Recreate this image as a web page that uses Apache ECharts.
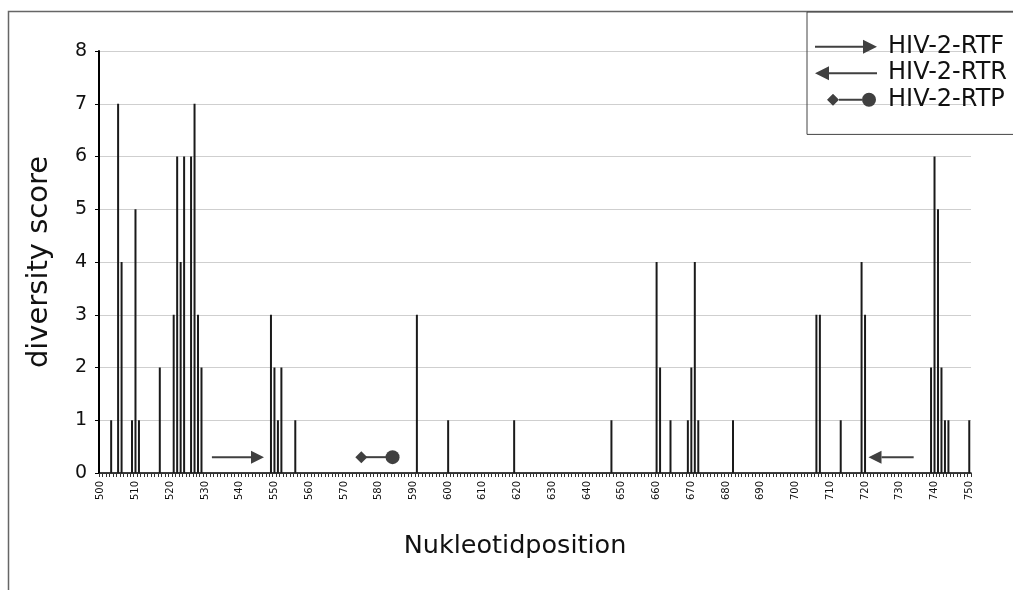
<!DOCTYPE html>
<html>
<head>
<meta charset="utf-8">
<title>HIV-2 RT diversity</title>
<script src="https://cdn.jsdelivr.net/npm/echarts@6/dist/echarts.min.js"></script>
<style>
  html, body { margin: 0; padding: 0; background: #fff; }
  #chart { width: 1013px; height: 590px; }
</style>
</head>
<body>
<div id="chart"></div>
<script>
// Nucleotide range shown on the x axis
const firstPosition = 500;
const lastPosition = 750;

// Positions with a non-zero diversity score, and their scores
const variablePositions = [
  503, 505, 506, 509, 510, 511, 517, 521, 522, 523, 524, 526, 527, 528, 529,
  549, 550, 551, 552, 556, 591, 600, 619, 647,
  660, 661, 664, 669, 670, 671, 672, 682,
  706, 707, 713, 719, 720, 739, 740, 741, 742, 743, 744, 750
];
const diversityScores = [
  1, 7, 4, 1, 5, 1, 2, 3, 6, 4, 6, 6, 7, 3, 2,
  3, 2, 1, 2, 1, 3, 1, 1, 1,
  4, 2, 1, 1, 2, 4, 1, 1,
  3, 3, 1, 4, 3, 2, 6, 5, 2, 1, 1, 1
];

// Primer sites: [start position, end position, drawn at score level]
const primerNames = ['HIV-2-RTF', 'HIV-2-RTR', 'HIV-2-RTP'];
const primerRTF = [531.5, 546.6, 0.3];
const primerRTR = [733.5, 721.0, 0.3];
const primerRTP = [574.7, 584.4, 0.3];

// Category axis: one slot per nucleotide position
const positions = [];
for (let p = firstPosition; p <= lastPosition; p++) positions.push(String(p));
const scoreByPosition = positions.map(() => 0);
variablePositions.forEach((p, i) => { scoreByPosition[p - firstPosition] = diversityScores[i]; });

const toIndex = (site) => [site[0] - firstPosition, site[1] - firstPosition, site[2]];

const markColor = '#404040';

// Arrow from start to end (head at end)
function renderArrow(params, api) {
  const a = api.coord([api.value(0), api.value(2)]);
  const b = api.coord([api.value(1), api.value(2)]);
  const dir = b[0] > a[0] ? 1 : -1;
  const head = 13;
  return {
    type: 'group',
    children: [
      { type: 'line', shape: { x1: a[0], y1: a[1], x2: b[0] - dir * head, y2: b[1] },
        style: { stroke: markColor, lineWidth: 2 } },
      { type: 'polygon', shape: { points: [[b[0], b[1]], [b[0] - dir * head, b[1] - 6.5], [b[0] - dir * head, b[1] + 6.5]] },
        style: { fill: markColor } }
    ]
  };
}

// Probe: diamond at the start, filled circle at the end
function renderProbe(params, api) {
  const a = api.coord([api.value(0), api.value(2)]);
  const b = api.coord([api.value(1), api.value(2)]);
  const d = 6;
  return {
    type: 'group',
    children: [
      { type: 'line', shape: { x1: a[0], y1: a[1], x2: b[0], y2: b[1] },
        style: { stroke: markColor, lineWidth: 2 } },
      { type: 'polygon', shape: { points: [[a[0] - d, a[1]], [a[0], a[1] - d], [a[0] + d, a[1]], [a[0], a[1] + d]] },
        style: { fill: markColor } },
      { type: 'circle', shape: { cx: b[0], cy: b[1], r: 7 }, style: { fill: markColor } }
    ]
  };
}

// Legend glyphs (sub-paths kept apart so the fill stays solid)
const iconRight = 'path://M0,6 L48,6 L48,0 L62,7 L48,14 L48,8 L0,8 Z';
const iconLeft = 'path://M62,6 L14,6 L14,0 L0,7 L14,14 L14,8 L62,8 Z';
const iconProbe = 'path://M0,7 L0.05,7.02 L0,7.04 Z M11,7 L17,1 L23,7 L17,13 Z M23,6 L46,6 L46,8 L23,8 Z M46,7 A7,7 0 1 1 60,7 A7,7 0 1 1 46,7 Z';

const chart = echarts.init(document.getElementById('chart'), null, { renderer: 'canvas' });

chart.setOption({
  animation: false,
  backgroundColor: '#ffffff',
  textStyle: { fontFamily: 'DejaVu Sans' },
  graphic: [{
    type: 'rect', position: [0, 0], silent: true,
    shape: { x: 8.5, y: 11.5, width: 1030, height: 610 },
    style: { fill: 'none', stroke: '#666', lineWidth: 1.5 }
  }],
  grid: { left: 99, right: 42, top: 51, bottom: 117, containLabel: false },
  legend: {
    orient: 'vertical',
    left: 807, top: 12,
    padding: [22.7, 30, 22.7, 8],
    itemWidth: 62, itemHeight: 14, itemGap: 2.5,
    borderColor: '#444', borderWidth: 1,
    selectedMode: false,
    textStyle: { fontSize: 24, lineHeight: 24, color: '#111', fontFamily: 'DejaVu Sans', padding: [0, 0, 0, 6] },
    data: [
      { name: primerNames[0], icon: iconRight },
      { name: primerNames[1], icon: iconLeft },
      { name: primerNames[2], icon: iconProbe }
    ]
  },
  xAxis: {
    type: 'category',
    data: positions,
    boundaryGap: true,
    name: 'Nukleotidposition',
    nameLocation: 'middle',
    nameGap: 60,
    nameTextStyle: { fontSize: 25.5, color: '#111', padding: [0, 40, 0, 0] },
    axisLine: { lineStyle: { color: '#000', width: 1.5 } },
    axisTick: { show: true, interval: 0, length: 4, lineStyle: { color: '#333', width: 1 } },
    axisLabel: { interval: 9, rotate: 90, fontSize: 10, color: '#111', margin: 8 },
    splitLine: { show: false }
  },
  yAxis: {
    type: 'value',
    min: 0, max: 8, interval: 1,
    name: 'diversity score',
    nameLocation: 'middle',
    nameGap: 45,
    nameTextStyle: { fontSize: 29, color: '#111' },
    axisLine: { show: true, lineStyle: { color: '#000', width: 2 } },
    axisTick: { show: true, length: 4, lineStyle: { color: '#000', width: 1 } },
    axisLabel: { fontSize: 19, color: '#111', margin: 12 },
    splitLine: { show: true, lineStyle: { color: '#cfcfcf', width: 1 } }
  },
  series: [
    {
      type: 'bar',
      name: 'diversity score',
      data: scoreByPosition,
      barWidth: 2,
      itemStyle: { color: '#1a1a1a' },
      silent: true
    },
    {
      type: 'custom', name: primerNames[0], renderItem: renderArrow,
      itemStyle: { color: markColor }, data: [toIndex(primerRTF)], silent: true
    },
    {
      type: 'custom', name: primerNames[1], renderItem: renderArrow,
      itemStyle: { color: markColor }, data: [toIndex(primerRTR)], silent: true
    },
    {
      type: 'custom', name: primerNames[2], renderItem: renderProbe,
      itemStyle: { color: markColor }, data: [toIndex(primerRTP)], silent: true
    }
  ]
});
</script>
</body>
</html>
